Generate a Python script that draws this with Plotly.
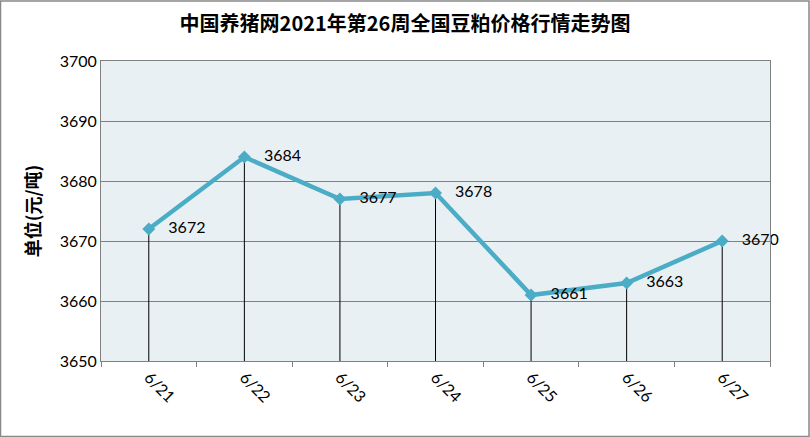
import plotly.graph_objects as go

dates = ["6/21", "6/22", "6/23", "6/24", "6/25", "6/26", "6/27"]
prices = [3672, 3684, 3677, 3678, 3661, 3663, 3670]
y_min = 3650
y_max = 3700
title = "中国养猪网2021年第26周全国豆粕价格行情走势图"
y_title = "单位(元/吨)"

W, H = 810, 437
ml, mr, mt, mb = 101, 40, 61, 76
pw = W - ml - mr
ph = H - mt - mb

fig = go.Figure()
# drop lines from each point down to the axis
fig.add_trace(go.Scatter(
    x=dates, y=prices, mode="markers",
    marker=dict(size=1, color="rgba(0,0,0,0)"),
    error_y=dict(type="data", symmetric=False,
                 array=[0] * len(prices),
                 arrayminus=[p - y_min for p in prices],
                 color="black", thickness=1, width=0),
    hoverinfo="skip", showlegend=False,
))
fig.add_trace(go.Scatter(
    x=dates, y=prices, mode="lines+markers+text",
    line=dict(color="#4BACC6", width=4.5),
    marker=dict(symbol="diamond", size=10, color="#4BACC6"),
    text=["   " + str(p) for p in prices], textposition="middle right",
    textfont=dict(family="Lato, Open Sans, sans-serif", size=16, color="black"),
    cliponaxis=False,
    showlegend=False,
))

fig.update_layout(
    width=W, height=H,
    margin=dict(l=ml, r=mr, t=mt, b=mb),
    paper_bgcolor="white", plot_bgcolor="#E9F0F4",
    title=dict(text=f"<b>{title}</b>", x=0.5, xanchor="center", y=1 - 24 / H, yanchor="middle",
               font=dict(family="Noto Sans CJK SC", size=20, color="black")),
    xaxis=dict(type="category", range=[-0.5, len(dates) - 0.5], tickangle=45,
               tickson="boundaries", ticks="outside",
               ticklen=5, tickcolor="#808080", showline=True, linecolor="#808080", mirror=True,
               showgrid=False,
               tickfont=dict(family="Lato, Open Sans, sans-serif", size=16, color="black")),
    yaxis=dict(range=[y_min, y_max], dtick=10, showgrid=True, gridcolor="#808080", gridwidth=1,
               showline=True, linecolor="#808080", mirror=True, ticks="", zeroline=False,
               tickfont=dict(family="Lato, Open Sans, sans-serif", size=16, color="black"),
               title=dict(text=f"<b>{y_title}</b>", standoff=14,
                          font=dict(family="Noto Sans CJK SC", size=18, color="black"))),
    shapes=[dict(type="rect", xref="paper", yref="paper",
                 x0=-ml / pw + 0.5 / pw, x1=1 + (mr - 1) / pw,
                 y0=-mb / ph + 0.5 / ph, y1=1 + (mt - 1) / ph,
                 line=dict(color="#888888", width=1.5), layer="below")],
)

fig.write_html("out.html")
